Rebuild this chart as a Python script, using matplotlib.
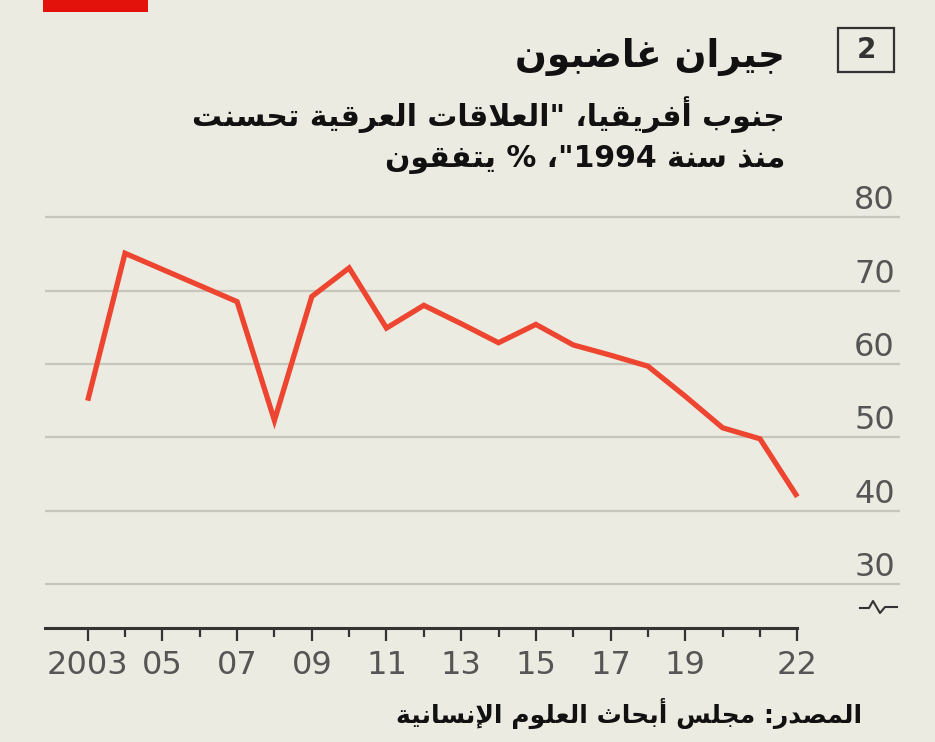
import re
import matplotlib
matplotlib.use("Agg")
import matplotlib.pyplot as plt
import matplotlib.transforms as mtransforms
from matplotlib.patches import Rectangle
from matplotlib.lines import Line2D

# data
years = list(range(2003, 2023))
agree = [55.0, 75.1, 72.9, 70.7, 68.5, 52.3, 69.2, 73.1, 64.9, 68.0,
         65.5, 62.9, 65.4, 62.6, 61.2, 59.7, 55.6, 51.3, 49.8, 41.9]
y_ticks = [30, 40, 50, 60, 70, 80]
x_tick_years = [2003, 2005, 2007, 2009, 2011, 2013, 2015, 2017, 2019, 2022]
x_tick_labels = ["2003", "05", "07", "09", "11", "13", "15", "17", "19", "22"]

title = "جيران غاضبون"
subtitle_1 = "جنوب أفريقيا، \"العلاقات العرقية تحسنت"
subtitle_2 = "منذ سنة 1994\"، % يتفقون"
source = "المصدر: مجلس أبحاث العلوم الإنسانية"
chart_number = "2"

BG = "#EBEBE1"
RED_LINE = "#EE4530"
GRID = "#C6C6BD"
DARK = "#333333"
TICK_TXT = "#555555"

# --- tiny arabic shaper (matplotlib does no shaping / bidi) ---
DUAL = {'ب': 0xFE8F, 'ت': 0xFE95, 'ث': 0xFE99, 'ج': 0xFE9D, 'ح': 0xFEA1, 'خ': 0xFEA5,
        'س': 0xFEB1, 'ش': 0xFEB5, 'ص': 0xFEB9, 'ض': 0xFEBD, 'ط': 0xFEC1, 'ظ': 0xFEC5,
        'ع': 0xFEC9, 'غ': 0xFECD, 'ف': 0xFED1, 'ق': 0xFED5, 'ك': 0xFED9, 'ل': 0xFEDD,
        'م': 0xFEE1, 'ن': 0xFEE5, 'ه': 0xFEE9, 'ي': 0xFEF1, 'ئ': 0xFE89}
RIGHT = {'ا': 0xFE8D, 'أ': 0xFE83, 'إ': 0xFE87, 'آ': 0xFE81, 'د': 0xFEA9, 'ذ': 0xFEAB,
         'ر': 0xFEAD, 'ز': 0xFEAF, 'و': 0xFEED, 'ؤ': 0xFE85, 'ة': 0xFE93, 'ى': 0xFEEF}
LAM_ALEF = {'ا': 0xFEFB, 'أ': 0xFEF7, 'إ': 0xFEF9, 'آ': 0xFEF5}


def ar(text):
    units = []
    i = 0
    while i < len(text):
        c = text[i]
        if c == 'ل' and i + 1 < len(text) and text[i + 1] in LAM_ALEF:
            units.append((LAM_ALEF[text[i + 1]], 'R'))
            i += 2
            continue
        if c in DUAL:
            units.append((DUAL[c], 'D'))
        elif c in RIGHT:
            units.append((RIGHT[c], 'R'))
        else:
            units.append((c, 'N'))
        i += 1
    out = []
    for k, (base, kind) in enumerate(units):
        if kind == 'N':
            out.append(base)
            continue
        prev = k > 0 and units[k - 1][1] == 'D'
        nxt = kind == 'D' and k + 1 < len(units) and units[k + 1][1] in ('D', 'R')
        if kind == 'D':
            out.append(chr(base + (1 if prev else 0) + (2 if nxt else 0)))
        else:
            out.append(chr(base + (1 if prev else 0)))
    shaped = "".join(out)
    tokens = re.findall(r"[0-9]+|.", shaped)
    return "".join(reversed(tokens))


W, H = 935, 742
fig = plt.figure(figsize=(W / 100, H / 100), dpi=100, facecolor=BG)

left_px, right_px, bottom_px, top_px = 45, 900, 628, 210
ax = fig.add_axes([left_px / W, 1 - bottom_px / H,
                   (right_px - left_px) / W, (bottom_px - top_px) / H])
ax.set_facecolor(BG)

ppy = (797.3 - 87.7) / 19  # pixels per year
ax.set_xlim(2003 - (87.7 - left_px) / ppy, 2022 + (right_px - 797.3) / ppy)
ax.set_ylim(24, 81)

ax.plot(years, agree, color=RED_LINE, lw=3.8, solid_joinstyle="miter",
        solid_capstyle="butt", zorder=3, clip_on=False)

# grid + y labels
ax.set_yticks(y_ticks)
ax.yaxis.grid(True, color=GRID, lw=1.6)
ax.tick_params(axis="y", length=0, labelleft=False)
ax.set_axisbelow(True)
trans = mtransforms.offset_copy(
    mtransforms.blended_transform_factory(ax.transAxes, ax.transData),
    fig=fig, x=0, y=8, units="dots")
for v in y_ticks:
    ax.text(0.994, v, str(v), transform=trans, ha="right", va="baseline",
            fontsize=23, color=TICK_TXT, family="DejaVu Sans")

# x axis
for s in ["left", "right", "top"]:
    ax.spines[s].set_visible(False)
ax.spines["bottom"].set_color(DARK)
ax.spines["bottom"].set_linewidth(2.2)
ax.spines["bottom"].set_bounds(ax.get_xlim()[0], 2022)
ax.set_xticks(years, minor=True)
ax.set_xticks(x_tick_years, x_tick_labels)
ax.tick_params(axis="x", which="major", length=9, width=1.6, color=DARK,
               pad=7, labelsize=23, labelcolor=TICK_TXT)
ax.tick_params(axis="x", which="minor", length=6.5, width=1.6, color=DARK)

# axis break mark
bx = [860, 869, 873, 880, 885, 897]
by = [608, 608, 601, 613, 607, 607]
fig.add_artist(Line2D([x / W for x in bx], [1 - y / H for y in by],
                      transform=fig.transFigure, color=DARK, lw=1.5))

# header
fig.add_artist(Rectangle((43 / W, 1 - 12 / H), 105 / W, 12 / H,
                         transform=fig.transFigure, color="#E3120B", lw=0))
fig.add_artist(Rectangle((838 / W, 1 - 72 / H), 56 / W, 44 / H,
                         transform=fig.transFigure, fill=False,
                         edgecolor=DARK, lw=1.6))
fig.text(866 / W, 1 - 50 / H, chart_number, ha="center", va="center",
         fontsize=20, fontweight="semibold", color=DARK, family="DejaVu Sans")

fig.text(785 / W, 1 - 57 / H, ar(title), ha="right", va="center",
         fontsize=27, fontweight="bold", color="#111111", family="DejaVu Sans")
fig.text(785 / W, 1 - 115 / H, ar(subtitle_1), ha="right", va="center",
         fontsize=21.5, fontweight="bold", color="#111111", family="DejaVu Sans")
fig.text(785 / W, 1 - 160 / H, ar(subtitle_2), ha="right", va="center",
         fontsize=21.5, fontweight="bold", color="#111111", family="DejaVu Sans")
fig.text(862 / W, 1 - 713 / H, ar(source), ha="right", va="center",
         fontsize=18, fontweight="bold", color="#111111", family="DejaVu Sans")

fig.savefig("out.png", dpi=100, facecolor=BG)
